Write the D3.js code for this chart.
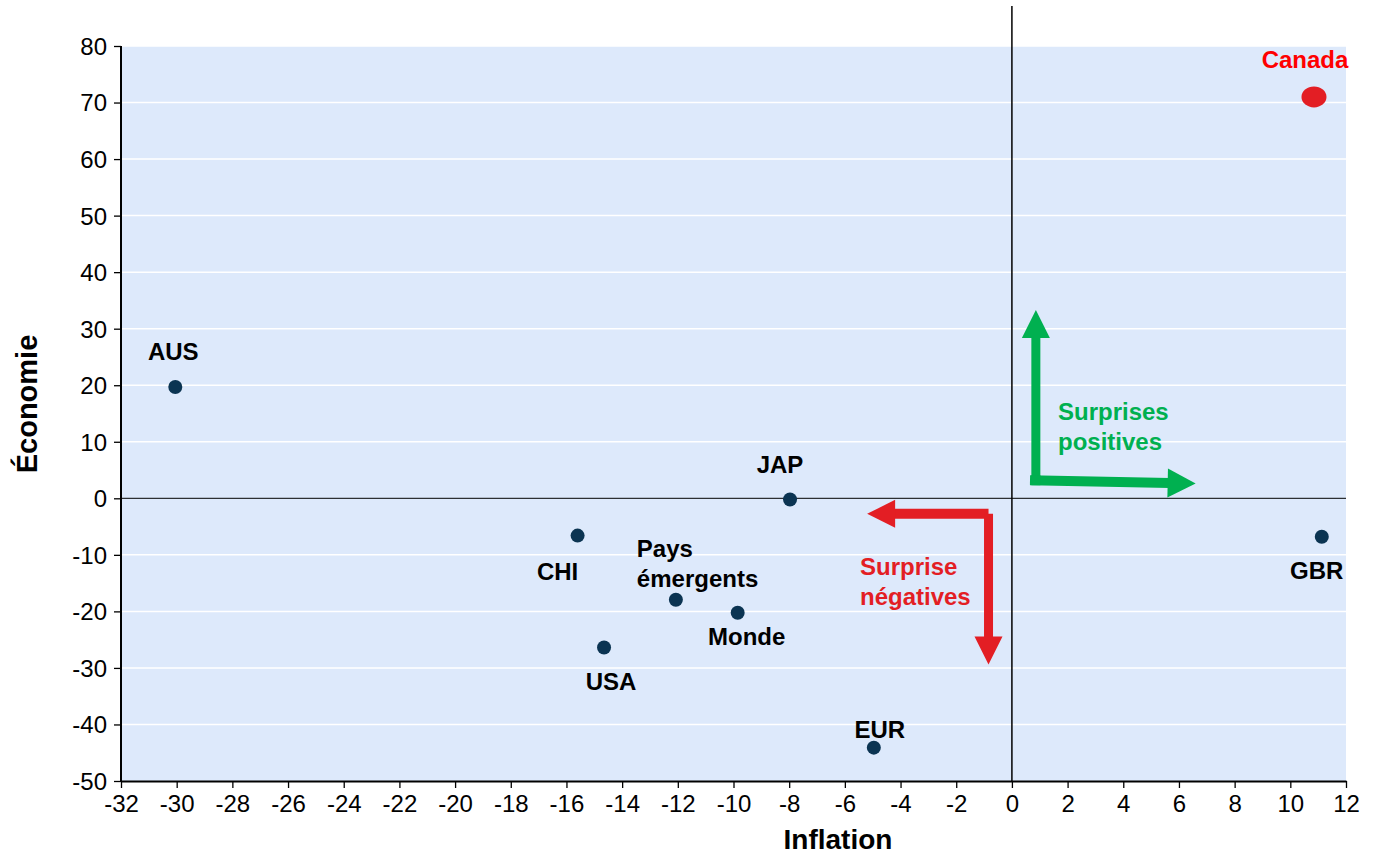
<!DOCTYPE html>
<html><head><meta charset="utf-8">
<script src="https://cdn.jsdelivr.net/npm/d3@7"></script>
<style>
body{margin:0;background:#fff;}
text{font-family:"Liberation Sans",Arial,sans-serif;}
</style></head>
<body>
<svg id="c" width="1373" height="855"></svg>
<script>
const names = ["AUS","CHI","USA","Pays émergents","Monde","JAP","EUR","GBR","Canada"];
const inflation = [-30.05,-15.6,-14.65,-12.07,-9.85,-7.97,-4.96,11.13,10.85];
const economie = [19.7,-6.6,-26.4,-17.95,-20.25,-0.2,-44.1,-6.8,71.0];
const xTicks = d3.range(-32, 13, 2);
const yTicks = d3.range(-50, 81, 10);
// annotation arrows in data units
const posArrowV = [[0.86,3.1],[0.86,33.3]];
const posArrowH = [[0.65,3.2],[6.6,2.6]];
const negArrowH = [[-0.84,-2.75],[-5.2,-2.75]];
const negArrowV = [[-0.84,-2.75],[-0.84,-29.4]];

const svg = d3.select("#c");
const m = {l:121, r:1346, t:46, b:781};
const x = d3.scaleLinear().domain([-32,12]).range([m.l,m.r]);
const y = d3.scaleLinear().domain([-50,80]).range([m.b,m.t]);
const fmt = d => d<0 ? "-"+Math.abs(d) : String(d);

svg.append("rect").attr("x",m.l).attr("y",m.t).attr("width",m.r-m.l).attr("height",m.b-m.t).attr("fill","#dde9fb");

// gridlines
svg.append("g").selectAll("line").data(yTicks.filter(v=>v!==-50 && v!==0)).join("line")
  .attr("x1",m.l).attr("x2",m.r).attr("y1",d=>y(d)).attr("y2",d=>y(d))
  .attr("stroke","#fff").attr("stroke-width",1.5);

// zero lines
svg.append("line").attr("x1",m.l).attr("x2",m.r).attr("y1",y(0)).attr("y2",y(0)).attr("stroke","#000").attr("stroke-width",1);
svg.append("line").attr("x1",x(0)).attr("x2",x(0)).attr("y1",6).attr("y2",m.b).attr("stroke","#000").attr("stroke-width",1.5);

// axes
const yAxis = svg.append("g").attr("transform",`translate(${m.l},0)`)
  .call(d3.axisLeft(y).tickValues(yTicks).tickSize(7).tickPadding(7).tickSizeOuter(0).tickFormat(fmt));
const xAxis = svg.append("g").attr("transform",`translate(0,${m.b})`)
  .call(d3.axisBottom(x).tickValues(xTicks).tickSize(7).tickPadding(7).tickSizeOuter(0).tickFormat(fmt));
yAxis.select(".domain").attr("stroke","#000").attr("stroke-width",2);
xAxis.select(".domain").attr("stroke","#000").attr("stroke-width",2);
svg.selectAll(".tick line").attr("stroke","#000").attr("stroke-width",1.3);
yAxis.selectAll("text").attr("font-size",24).attr("fill","#000").attr("font-family","Liberation Sans, Arial, sans-serif").attr("dy","0.35em");
xAxis.selectAll("text").attr("font-size",24).attr("fill","#000").attr("font-family","Liberation Sans, Arial, sans-serif");
yAxis.select(".domain").attr("d",`M0,${m.t}V${m.b}`);

// titles
svg.append("text").attr("x",838).attr("y",849).attr("text-anchor","middle")
  .attr("font-size",28).attr("font-weight","bold").text("Inflation");
svg.append("text").attr("transform","translate(37,404) rotate(-90)").attr("text-anchor","middle")
  .attr("font-size",29).attr("font-weight","bold").text("Économie");

// arrows
function arrow(pts, color, headLen, headW, w){
  const p0=[x(pts[0][0]),y(pts[0][1])], p1=[x(pts[1][0]),y(pts[1][1])];
  const dx=p1[0]-p0[0], dy=p1[1]-p0[1], L=Math.hypot(dx,dy), ux=dx/L, uy=dy/L;
  const bx=p1[0]-ux*headLen, by=p1[1]-uy*headLen;
  svg.append("line").attr("x1",p0[0]).attr("y1",p0[1]).attr("x2",bx+ux*2).attr("y2",by+uy*2)
    .attr("stroke",color).attr("stroke-width",w);
  svg.append("path").attr("d",`M${p1[0]},${p1[1]}L${bx-uy*headW/2},${by+ux*headW/2}L${bx+uy*headW/2},${by-ux*headW/2}Z`)
    .attr("fill",color);
}
const green="#00b050", red="#e31e24";
arrow(posArrowV, green, 28, 28, 9);
arrow(posArrowH, green, 28, 29, 10);
arrow(negArrowH, red, 28, 28, 10);
arrow(negArrowV, red, 28, 28, 9);
svg.append("rect").attr("x",x(posArrowV[0][0])-4.5).attr("y",y(posArrowH[0][1])-5).attr("width",9).attr("height",10).attr("fill",green);

const fs = 24;
svg.append("text").attr("x",1058).attr("y",420).attr("font-size",fs).attr("font-weight","bold").attr("fill",green).text("Surprises");
svg.append("text").attr("x",1058).attr("y",450).attr("font-size",fs).attr("font-weight","bold").attr("fill",green).text("positives");
svg.append("text").attr("x",860).attr("y",575).attr("font-size",fs).attr("font-weight","bold").attr("fill",red).text("Surprise");
svg.append("text").attr("x",860).attr("y",605).attr("font-size",fs).attr("font-weight","bold").attr("fill",red).text("négatives");

// points
const data = names.map((n,i)=>({n, x:inflation[i], y:economie[i]}));
const labelOff = {
  "AUS":{dx:-2,dy:-27},
  "CHI":{dx:-20,dy:44},
  "USA":{dx:7,dy:42},
  "Monde":{dx:9,dy:32},
  "JAP":{dx:-10,dy:-26},
  "EUR":{dx:6,dy:-10},
  "GBR":{dx:-5,dy:42},
  "Canada":{dx:-9,dy:-29}
};
data.forEach(d=>{
  const cx=x(d.x), cy=y(d.y);
  if(d.n==="Canada"){
    svg.append("ellipse").attr("cx",cx).attr("cy",cy).attr("rx",12.5).attr("ry",10.5).attr("fill",red);
  } else {
    svg.append("circle").attr("cx",cx).attr("cy",cy).attr("r",7).attr("fill","#0b3452");
  }
  if(d.n==="Pays émergents"){
    svg.append("text").attr("x",cx-39).attr("y",cy-43).attr("font-size",fs).attr("font-weight","bold").text("Pays");
    svg.append("text").attr("x",cx-39).attr("y",cy-13).attr("font-size",fs).attr("font-weight","bold").text("émergents");
  } else {
    const o=labelOff[d.n];
    svg.append("text").attr("x",cx+o.dx).attr("y",cy+o.dy).attr("text-anchor","middle")
      .attr("font-size",fs).attr("font-weight","bold").attr("fill",d.n==="Canada"?"#ff0000":"#000").text(d.n);
  }
});
</script>
</body></html>
